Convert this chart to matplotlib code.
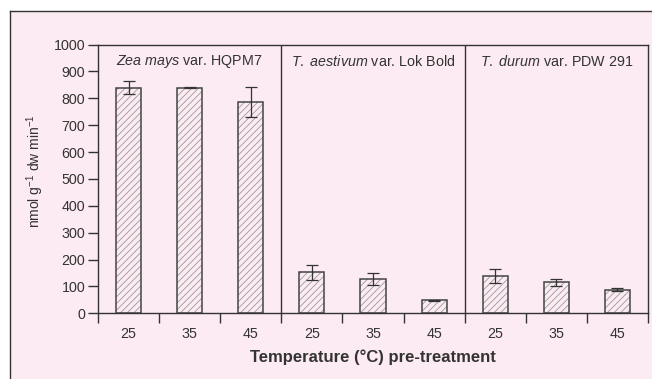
import numpy as np
import matplotlib.pyplot as plt
from matplotlib.patches import Rectangle
from matplotlib.lines import Line2D

plt.rcParams['font.family'] = ['Liberation Sans', 'DejaVu Sans']
plt.rcParams['mathtext.fontset'] = 'custom'
plt.rcParams['mathtext.rm'] = 'Liberation Sans'
plt.rcParams['mathtext.it'] = 'Liberation Sans:italic'
plt.rcParams['hatch.linewidth'] = 0.6

# data
species = ['Zea mays', 'T. aestivum', 'T. durum']
varieties = ['HQPM7', 'Lok Bold', 'PDW 291']
temps = ['25', '35', '45']
zea_vals = [840, 840, 786]
zea_err = [26, 2, 56]
aest_vals = [152, 127, 49]
aest_err = [29, 23, 2]
durum_vals = [138, 115, 88]
durum_err = [26, 13, 5]
yticks = [0, 100, 200, 300, 400, 500, 600, 700, 800, 900, 1000]

values = zea_vals + aest_vals + durum_vals
errors = zea_err + aest_err + durum_err
labels = temps * 3

pink = '#fcebf2'
dark = '#333333'

W, H = 652, 379
fig = plt.figure(figsize=(W / 100, H / 100), dpi=100)
fig.patch.set_facecolor('white')

# pink panel with top/left frame
fig.patches.append(Rectangle((10 / W, 0), 1, 1 - 11 / H, transform=fig.transFigure,
                             facecolor=pink, edgecolor='none', zorder=-10))
fig.lines.append(Line2D([10 / W, 10 / W], [0, 1 - 11 / H], transform=fig.transFigure,
                        color=dark, lw=1.0, zorder=-5))
fig.lines.append(Line2D([10 / W, 1], [1 - 11 / H, 1 - 11 / H], transform=fig.transFigure,
                        color=dark, lw=1.0, zorder=-5))

ax = fig.add_axes([98 / W, 1 - 313.3 / H, 550 / W, (313.3 - 44.5) / H])
ax.set_facecolor('none')

x = np.arange(len(values))
ax.bar(x, values, width=0.41, color='none', edgecolor='#9a9a9a', hatch='/////', lw=0, zorder=2)
ax.bar(x, values, width=0.41, fill=False, edgecolor='#444444', lw=1.1, zorder=3)
ax.errorbar(x, values, yerr=errors, fmt='none', ecolor=dark, elinewidth=0.9,
            capsize=4, capthick=0.9, zorder=4)

ax.set_xlim(-0.5, 8.5)
ax.set_ylim(0, 1000)
ax.set_yticks(yticks)
ax.set_xticks(x)
ax.set_xticklabels(labels)
ax.set_xticks(np.arange(-0.5, 9, 1), minor=True)
ax.tick_params(axis='x', which='major', length=0, pad=10, labelsize=10.3, labelcolor=dark)
ax.tick_params(axis='x', which='minor', length=7, width=1.0, color=dark)
ax.tick_params(axis='y', length=7, width=1.0, color=dark, labelsize=10.3, labelcolor=dark, pad=2)

for s in ax.spines.values():
    s.set_color(dark)
    s.set_linewidth(1.0)

# panel separators
for xs in [2.5, 5.5]:
    ax.axvline(xs, color=dark, lw=1.0, zorder=1)

# panel titles
for i, (sp, var) in enumerate(zip(species, varieties)):
    ax.text(1 + 3 * i, 935, f'$\\it{{{sp.replace(" ", "\\ ")}}}$ var. {var}',
            ha='center', va='center', fontsize=10.3, color=dark)

ax.set_ylabel('nmol g$^{-1}$ dw min$^{-1}$', fontsize=10, color=dark)
ax.yaxis.set_label_coords(-0.094, 0.53)
ax.set_xlabel('Temperature (°C) pre-treatment', fontsize=12, fontweight='bold', color=dark)
ax.xaxis.set_label_coords(0.5, -0.135)

fig.savefig('out.png', dpi=100, facecolor=fig.get_facecolor())
